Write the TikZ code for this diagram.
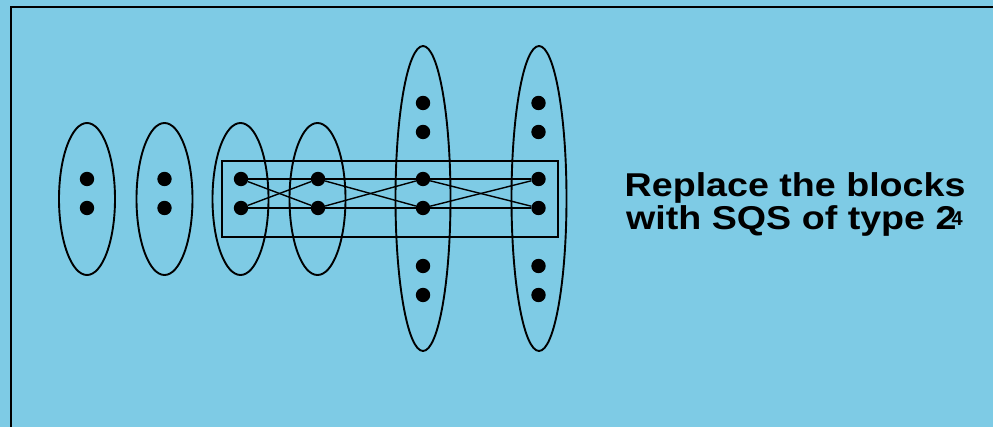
\documentclass[tikz,border=0pt]{standalone}
\usepackage{fontspec}
\usepackage{graphicx}
\setmainfont{Liberation Sans}
\usetikzlibrary{shapes.geometric}
\definecolor{slidebg}{RGB}{126,203,229}
\tikzset{
  pt/.style={circle, fill=black, inner sep=0pt, minimum size=14.4pt},
  blockshort/.style={ellipse, draw, line width=1.9pt, inner sep=0pt, minimum width=56pt, minimum height=152pt},
  blocktall/.style={ellipse, draw, line width=1.9pt, inner sep=0pt, minimum width=55pt, minimum height=305pt},
  link/.style={line width=1.4pt},
  caption/.style={inner sep=0pt, anchor=base west, font=\bfseries\fontsize{33}{33}\selectfont},
  exponent/.style={inner sep=0pt, anchor=base west, font=\bfseries\fontsize{20}{20}\selectfont},
}
\newcommand{\wide}[1]{\scalebox{1.14}[1]{#1}}
\begin{document}
\begin{tikzpicture}[x=1pt, y=-1pt]
  % slide background and frame
  \fill[slidebg] (0,0) rectangle (993,427);
  \useasboundingbox (0,0) rectangle (993,427);
  \draw[line width=2pt] (10.8,427) -- (10.8,7) -- (993,7);

  % blocks
  \node[blockshort] (e1) at (87,199) {};
  \node[blockshort] (e2) at (164.5,199) {};
  \node[blockshort] (e3) at (240.5,199) {};
  \node[blockshort] (e4) at (317.5,199) {};
  \node[blocktall]  (e5) at (423,198.5) {};
  \node[blocktall]  (e6) at (539,198.5) {};

  % the transversal box
  \draw[line width=1.9pt] (221.7,161) rectangle (558.3,237.3);

  % points
  \node[pt] (a1) at (87,179) {};
  \node[pt] (a2) at (87,208) {};
  \node[pt] (b1) at (164.5,179) {};
  \node[pt] (b2) at (164.5,208) {};
  \node[pt] (c1) at (241,179) {};
  \node[pt] (c2) at (241,208) {};
  \node[pt] (d1) at (318,179) {};
  \node[pt] (d2) at (318,208) {};
  \node[pt] (f0) at (423,103) {};
  \node[pt] (f9) at (423,132) {};
  \node[pt] (f1) at (423,179) {};
  \node[pt] (f2) at (423,208) {};
  \node[pt] (f7) at (423,266) {};
  \node[pt] (f8) at (423,295) {};
  \node[pt] (g0) at (538.5,103) {};
  \node[pt] (g9) at (538.5,132) {};
  \node[pt] (g1) at (538.5,179) {};
  \node[pt] (g2) at (538.5,208) {};
  \node[pt] (g7) at (538.5,266) {};
  \node[pt] (g8) at (538.5,295) {};

  % connections
  \draw[link] (c1) -- (d1) -- (f1) -- (g1);
  \draw[link] (c2) -- (d2) -- (f2) -- (g2);
  \draw[link] (c1) -- (d2);
  \draw[link] (c2) -- (d1);
  \draw[link] (d1) -- (f2);
  \draw[link] (d2) -- (f1);
  \draw[link] (f1) -- (g2);
  \draw[link] (f2) -- (g1);

  % caption
  \node[caption] (t1) at (624.5,197) {\wide{Replace the blocks}};
  \node[caption] (t2) at (626,230) {\wide{with SQS of type 2}};
  \node[exponent] (t3) at (951.5,226) {4};
\end{tikzpicture}
\end{document}
